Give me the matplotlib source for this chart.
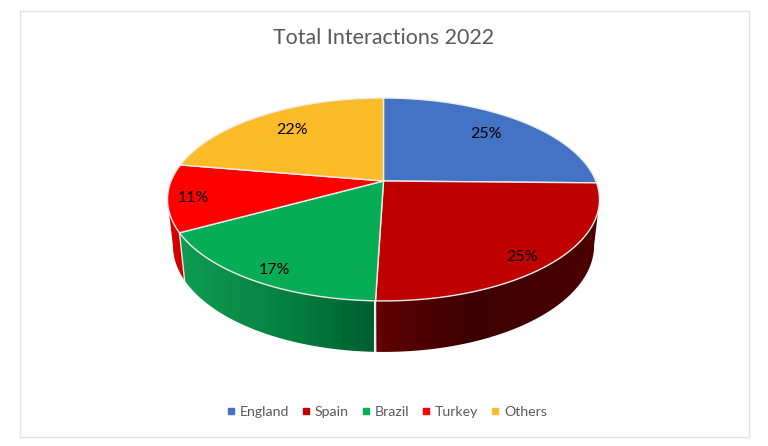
import numpy as np
import matplotlib
matplotlib.use("Agg")
import matplotlib.pyplot as plt
from matplotlib.patches import Polygon, Rectangle
from matplotlib.lines import Line2D
from matplotlib.colors import LinearSegmentedColormap

# Data
categories = ["England", "Spain", "Brazil", "Turkey", "Others"]
values = [25.3, 25.19, 16.51, 10.7, 22.3]
labels = ["25%", "25%", "17%", "11%", "22%"]
colors = ["#4472C4", "#C00000", "#07AD56", "#FF0000", "#FBBC28"]

# Styling / projection parameters
label_r = [0.75, 0.87, 0.88, 0.88, 0.70]
label_shift = [(-1, 0), (-5, 6), (4, 4), (-1, 2), (-4, -3)]
CX, CY = 383.5, 181.0
A, B, C = 212.4, 98.1, 0.182
SX, SY, D = 0.975, 1.05, 45.0
side_stops = {
    "Spain": ([374, 470, 600], ["#620000", "#3c0000", "#4c0000"]),
    "Brazil": ([178, 290, 374], ["#109c52", "#04803f", "#005f2f"]),
    "Turkey": ([168, 184], ["#d80000", "#cc0000"]),
}
TEXT = "#595959"
plt.rcParams["font.family"] = ["Lato", "DejaVu Sans"]


def project(theta, r=1.0):
    """theta clockwise from the top of the pie, in radians."""
    u, v = r * np.sin(theta), r * np.cos(theta)
    k = 1 + C * v
    return CX + A * u / k, CY - B * v / k


def lower(x, y):
    return CX + SX * (x - CX), CY + SY * (y - CY) + D


fig = plt.figure(figsize=(7.68, 4.46), dpi=100, facecolor="white")
ax = fig.add_axes([0, 0, 1, 1])
ax.axis("off")
ax.add_patch(Rectangle((19.5, 10.5), 729, 426, fc="white", ec="#e2e2e2", lw=1))

edges = np.concatenate([[0], np.cumsum(values)]) / sum(values) * 2 * np.pi
t_lo = np.arccos(-C)            # right-hand silhouette
t_hi = 2 * np.pi - t_lo         # left-hand silhouette

# Side wall, one gradient clipped to the wedge's outer wall
for i, name in enumerate(categories):
    if name not in side_stops:
        continue
    a, b = max(edges[i], t_lo), min(edges[i + 1], t_hi)
    t = np.linspace(a, b, 200)
    x, y = project(t)
    xb, yb = lower(x, y)
    pts = np.vstack([np.column_stack([x, y]), np.column_stack([xb, yb])[::-1]])
    poly = Polygon(pts, closed=True, fc="none", ec="none", transform=ax.transData)
    ax.add_patch(poly)
    stops, cols = side_stops[name]
    x0, x1 = stops[0], stops[-1]
    pos = [(s - x0) / (x1 - x0) for s in stops]
    cmap = LinearSegmentedColormap.from_list(name, list(zip(pos, cols)))
    im = ax.imshow(np.linspace(0, 1, 256)[None, :], cmap=cmap, vmin=0, vmax=1,
                   extent=(x0, x1, 400, 100), aspect="auto", zorder=2,
                   interpolation="bilinear")
    im.set_clip_path(poly)

ax.set_xlim(0, 768)
ax.set_ylim(446, 0)

# Separators on the side wall
for e in edges[2:4]:
    x, y = project(e)
    xb, yb = lower(x, y)
    ax.add_line(Line2D([x, xb], [y, yb], color="#e6e6e6", lw=1, zorder=3))

# Top face
for i, col in enumerate(colors):
    t = np.linspace(edges[i], edges[i + 1], 120)
    x, y = project(t)
    pts = [(CX, CY)] + list(zip(x, y))
    ax.add_patch(Polygon(pts, closed=True, fc=col, ec="#ececec", lw=1,
                         joinstyle="round", zorder=4))

# Data labels
for i, lab in enumerate(labels):
    mid = (edges[i] + edges[i + 1]) / 2
    x, y = project(mid, label_r[i])
    ax.text(x + label_shift[i][0], y + label_shift[i][1], lab, ha="center", va="center",
            fontsize=11.5, color="black", zorder=5)

ax.text(CX, 38, "Total Interactions 2022", ha="center", va="center",
        fontsize=15.4, color=TEXT)

handles = [Line2D([], [], ls="none", marker="s", ms=4.6, mfc=c, mec=c) for c in colors]
leg = ax.legend(handles, categories, ncol=5, loc="center",
                bbox_to_anchor=(386.5, 412), bbox_transform=ax.transData,
                frameon=False, fontsize=10.2, labelcolor=TEXT,
                handlelength=0.6, handletextpad=0.32, columnspacing=0.9,
                borderpad=0, borderaxespad=0)

fig.savefig("out.png", dpi=100, facecolor="white")
